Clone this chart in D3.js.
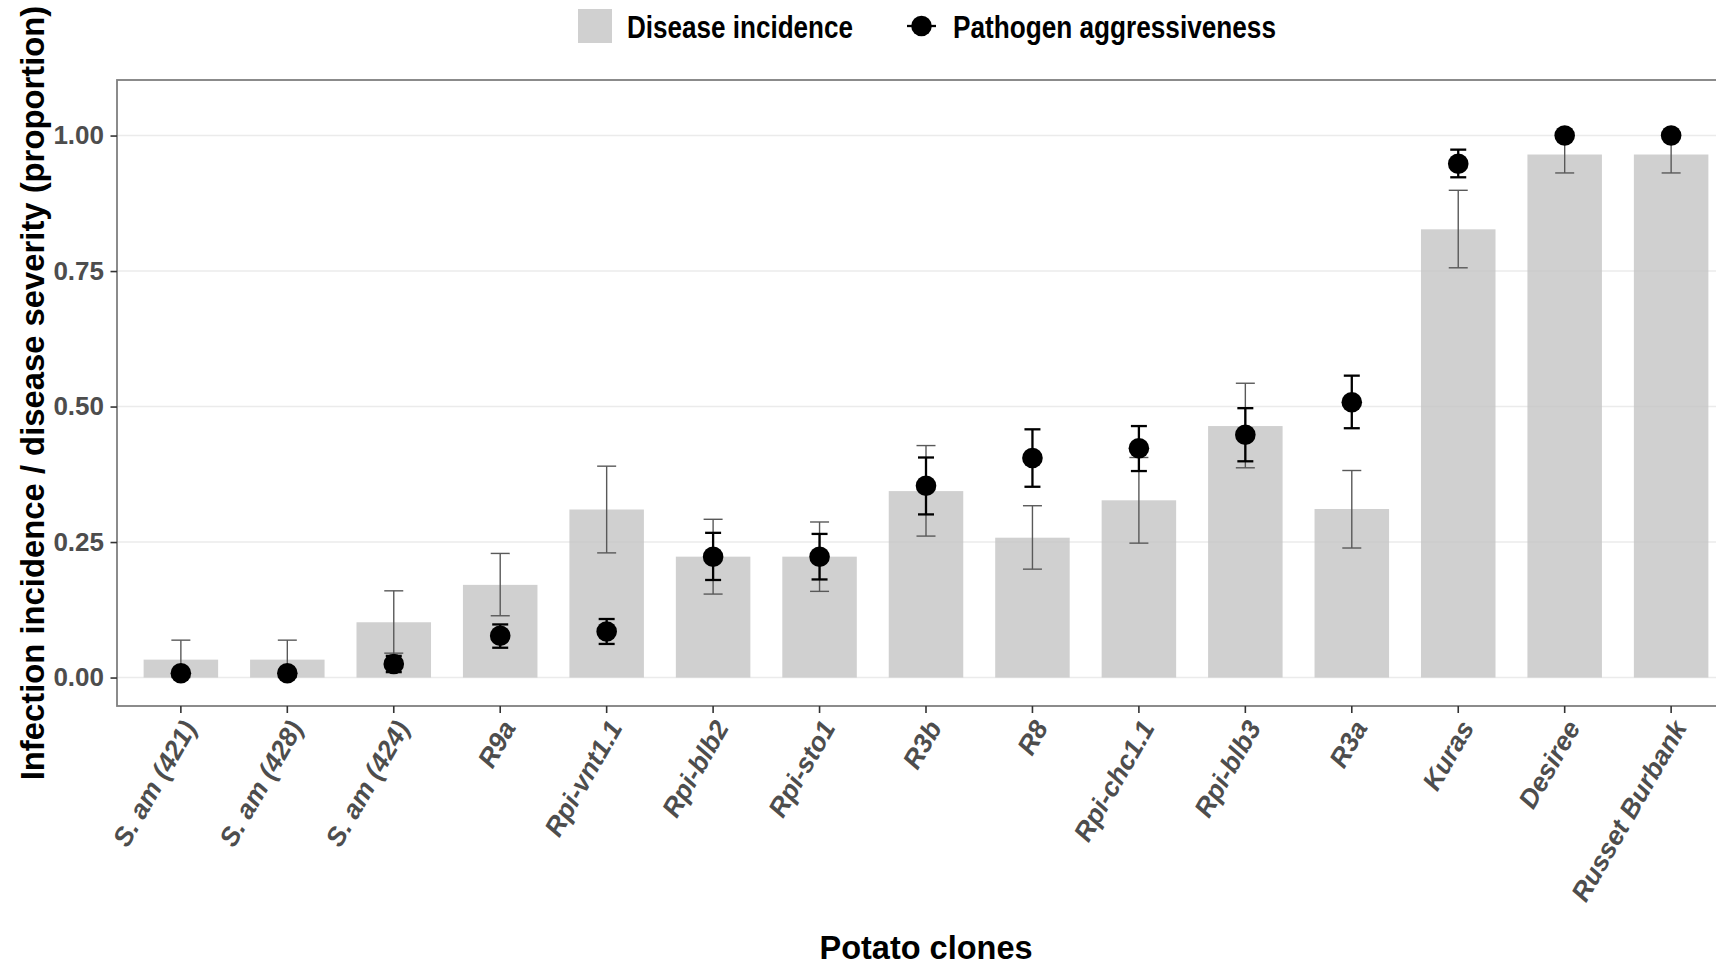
<!DOCTYPE html>
<html>
<head>
<meta charset="utf-8">
<script src="https://cdn.jsdelivr.net/npm/d3@7"></script>
<style>
  html, body { margin: 0; padding: 0; background: #ffffff; }
  svg { display: block; }
</style>
</head>
<body>
<svg id="chart" width="1716" height="966"></svg>
<script>
// ---- data ----
const categories = ["S. am (421)", "S. am (428)", "S. am (424)", "R9a", "Rpi-vnt1.1", "Rpi-blb2",
  "Rpi-sto1", "R3b", "R8", "Rpi-chc1.1", "Rpi-blb3", "R3a", "Kuras", "Desiree", "Russet Burbank"];
const incidence     = [0.033, 0.033, 0.102, 0.171, 0.310, 0.223, 0.223, 0.344, 0.258, 0.327, 0.464, 0.311, 0.827, 0.965, 0.965];
const incidenceLow  = [0.000, 0.000, 0.045, 0.114, 0.230, 0.154, 0.159, 0.261, 0.200, 0.248, 0.387, 0.239, 0.756, 0.931, 0.931];
const incidenceHigh = [0.069, 0.069, 0.160, 0.229, 0.390, 0.292, 0.287, 0.428, 0.317, 0.406, 0.543, 0.382, 0.899, 1.000, 1.000];
const aggressiveness     = [0.008, 0.008, 0.025, 0.077, 0.085, 0.223, 0.223, 0.354, 0.405, 0.423, 0.448, 0.508, 0.948, 1.000, 1.000];
const aggressivenessLow  = [0.008, 0.008, 0.010, 0.055, 0.062, 0.180, 0.181, 0.301, 0.352, 0.381, 0.399, 0.460, 0.923, 1.000, 1.000];
const aggressivenessHigh = [0.008, 0.008, 0.040, 0.098, 0.108, 0.267, 0.265, 0.406, 0.458, 0.464, 0.497, 0.557, 0.974, 1.000, 1.000];
const yTicks = [0, 0.25, 0.50, 0.75, 1.00];
const legendLabels = ["Disease incidence", "Pathogen aggressiveness"];
const xTitle = "Potato clones";
const yTitle = "Infection incidence / disease severity (proportion)";

const rows = categories.map((c, i) => ({
  cat: c, inc: incidence[i], incLo: incidenceLow[i], incHi: incidenceHigh[i],
  agg: aggressiveness[i], aggLo: aggressivenessLow[i], aggHi: aggressivenessHigh[i]
}));

// ---- layout ----
const panel = { left: 117, right: 1735, top: 80, bottom: 706 };
const svg = d3.select("#chart");
const FONT = "'Liberation Sans', Arial, Helvetica, sans-serif";

const x = d3.scaleBand().domain(categories)
  .range([panel.left, panel.right]).paddingInner(0.3).paddingOuter(0.25);
const y = d3.scaleLinear().domain([-0.0525, 1.1025]).range([panel.bottom, panel.top]);
const xc = c => x(c) + x.bandwidth() / 2;

// gridlines
svg.append("g").selectAll("line").data(yTicks).join("line")
  .attr("x1", panel.left).attr("x2", panel.right)
  .attr("y1", d => y(d)).attr("y2", d => y(d))
  .attr("stroke", "#EBEBEB").attr("stroke-width", 1.6);

// bars
svg.append("g").selectAll("rect").data(rows).join("rect")
  .attr("x", d => x(d.cat)).attr("width", x.bandwidth())
  .attr("y", d => y(d.inc)).attr("height", d => y(0) - y(d.inc))
  .attr("fill", "rgb(196,196,196)").attr("fill-opacity", 0.8);

// incidence error bars (grey)
const gErr = svg.append("g").attr("stroke", "#595959").attr("stroke-width", 1.4).attr("fill", "none");
const capG = 9.5;
gErr.selectAll("line.v").data(rows).join("line").attr("class", "v")
  .attr("x1", d => xc(d.cat)).attr("x2", d => xc(d.cat))
  .attr("y1", d => y(d.incLo)).attr("y2", d => y(d.incHi));
gErr.selectAll("line.hi").data(rows).join("line").attr("class", "hi")
  .attr("x1", d => xc(d.cat) - capG).attr("x2", d => xc(d.cat) + capG)
  .attr("y1", d => y(d.incHi)).attr("y2", d => y(d.incHi));
gErr.selectAll("line.lo").data(rows).join("line").attr("class", "lo")
  .attr("x1", d => xc(d.cat) - capG).attr("x2", d => xc(d.cat) + capG)
  .attr("y1", d => y(d.incLo)).attr("y2", d => y(d.incLo));

// aggressiveness error bars (black)
const gAgg = svg.append("g").attr("stroke", "#000").attr("stroke-width", 2.3).attr("fill", "none");
const capB = 8;
gAgg.selectAll("line.v").data(rows).join("line").attr("class", "v")
  .attr("x1", d => xc(d.cat)).attr("x2", d => xc(d.cat))
  .attr("y1", d => y(d.aggLo)).attr("y2", d => y(d.aggHi));
gAgg.selectAll("line.hi").data(rows).join("line").attr("class", "hi")
  .attr("x1", d => xc(d.cat) - capB).attr("x2", d => xc(d.cat) + capB)
  .attr("y1", d => y(d.aggHi)).attr("y2", d => y(d.aggHi));
gAgg.selectAll("line.lo").data(rows).join("line").attr("class", "lo")
  .attr("x1", d => xc(d.cat) - capB).attr("x2", d => xc(d.cat) + capB)
  .attr("y1", d => y(d.aggLo)).attr("y2", d => y(d.aggLo));

// points
svg.append("g").selectAll("circle").data(rows).join("circle")
  .attr("cx", d => xc(d.cat)).attr("cy", d => y(d.agg)).attr("r", 10.3)
  .attr("fill", "#000");

// panel border
svg.append("rect")
  .attr("x", panel.left).attr("y", panel.top)
  .attr("width", panel.right - panel.left).attr("height", panel.bottom - panel.top)
  .attr("fill", "none").attr("stroke", "#7F7F7F").attr("stroke-width", 1.8);

// y axis
const yAxis = svg.append("g").attr("transform", `translate(${panel.left},0)`)
  .call(d3.axisLeft(y).tickValues(yTicks).tickFormat(d3.format(".2f")).tickSize(6.5).tickPadding(6.5));
yAxis.select(".domain").remove();
yAxis.selectAll(".tick line").attr("stroke", "#333333").attr("stroke-width", 1.6);
yAxis.selectAll(".tick text").attr("fill", "#4D4D4D")
  .style("font-family", FONT).style("font-size", "26px").style("font-weight", "bold");

// x axis
const xAxis = svg.append("g").attr("transform", `translate(0,${panel.bottom})`)
  .call(d3.axisBottom(x).tickSize(7).tickFormat(""));
xAxis.select(".domain").remove();
xAxis.selectAll(".tick line").attr("stroke", "#333333").attr("stroke-width", 1.6);
xAxis.selectAll(".tick text").remove();

svg.append("g").selectAll("text").data(categories).join("text")
  .attr("transform", d => `translate(${xc(d)},${panel.bottom + 12}) rotate(-60)`)
  .attr("text-anchor", "end").attr("dy", "0.72em")
  .attr("fill", "#4D4D4D")
  .style("font-family", FONT).style("font-size", "26.5px")
  .style("font-weight", "bold").style("font-style", "italic")
  .text(d => d);

// axis titles
svg.append("text")
  .attr("x", (panel.left + panel.right) / 2).attr("y", 959)
  .attr("text-anchor", "middle").attr("fill", "#000")
  .style("font-family", FONT).style("font-size", "32.5px").style("font-weight", "bold")
  .text(xTitle);

svg.append("text")
  .attr("transform", `translate(44,${(panel.top + panel.bottom) / 2}) rotate(-90)`)
  .attr("text-anchor", "middle").attr("fill", "#000")
  .style("font-family", FONT).style("font-size", "32.8px").style("font-weight", "bold")
  .text(yTitle);

// legend
const lg = svg.append("g");
lg.append("rect").attr("x", 578).attr("y", 9).attr("width", 34).attr("height", 34)
  .attr("fill", "rgb(196,196,196)").attr("fill-opacity", 0.8);
lg.append("text").attr("x", 627).attr("y", 38)
  .attr("textLength", 226).attr("lengthAdjust", "spacingAndGlyphs")
  .attr("fill", "#000").style("font-family", FONT).style("font-size", "31px").style("font-weight", "bold")
  .text(legendLabels[0]);
lg.append("line").attr("x1", 907).attr("x2", 936).attr("y1", 26).attr("y2", 26)
  .attr("stroke", "#000").attr("stroke-width", 2.3);
lg.append("circle").attr("cx", 921.5).attr("cy", 26).attr("r", 10.3).attr("fill", "#000");
lg.append("text").attr("x", 953).attr("y", 38)
  .attr("textLength", 323).attr("lengthAdjust", "spacingAndGlyphs")
  .attr("fill", "#000").style("font-family", FONT).style("font-size", "31px").style("font-weight", "bold")
  .text(legendLabels[1]);
</script>
</body>
</html>
